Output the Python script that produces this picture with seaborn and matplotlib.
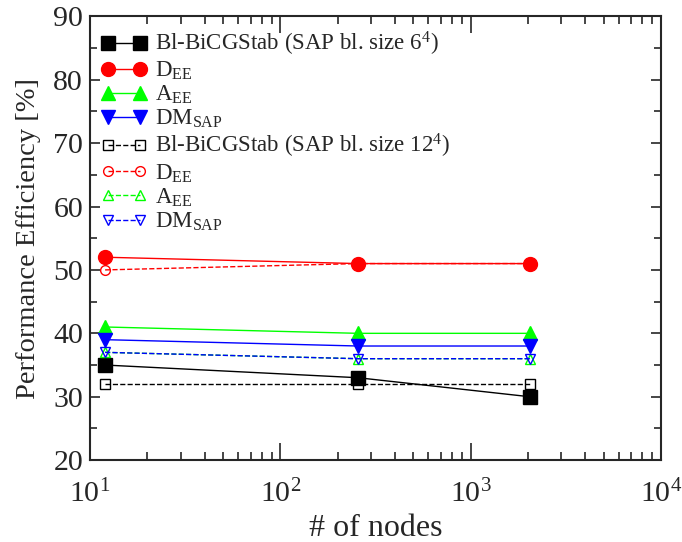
import numpy as np
import pandas as pd
import seaborn as sns
import matplotlib.pyplot as plt
from matplotlib.ticker import MultipleLocator, LogLocator, NullFormatter

sns.set_style("ticks")
plt.rcParams['font.family'] = ['Liberation Serif', 'DejaVu Serif']
plt.rcParams['mathtext.fontset'] = 'custom'
plt.rcParams['mathtext.rm'] = 'Liberation Serif'
plt.rcParams['mathtext.it'] = 'Liberation Serif:italic'

nodes = [12, 256, 2048]

# SAP block size 6^4
bicg_6 = [35, 33, 30]
dee_6 = [52, 51, 51]
aee_6 = [41, 40, 40]
dmsap_6 = [39, 38, 38]

# SAP block size 12^4
bicg_12 = [32, 32, 32]
dee_12 = [50, 51, 51]
aee_12 = [37, 36, 36]
dmsap_12 = [37, 36, 36]

labels = [r'Bl-BiCGStab (SAP bl. size 6$^{4}$)', r'D$_{\rm EE}$', r'A$_{\rm EE}$', r'DM$_{\rm SAP}$',
          r'Bl-BiCGStab (SAP bl. size 12$^{4}$)', r'D$_{\rm EE}$', r'A$_{\rm EE}$', r'DM$_{\rm SAP}$']
series = [bicg_6, dee_6, aee_6, dmsap_6, bicg_12, dee_12, aee_12, dmsap_12]
colors = ['black', '#ff0000', '#00ff00', '#0000ff'] * 2
markers = ['s', 'o', '^', 'v'] * 2

fig, ax = plt.subplots(figsize=(6.82, 5.42), dpi=100)
fig.subplots_adjust(left=0.132, right=0.969, bottom=0.151, top=0.970)

for i, (vals, lab) in enumerate(zip(series, labels)):
    df = pd.DataFrame({'nodes': nodes, 'eff': vals})
    filled = i < 4
    sns.lineplot(data=df, x='nodes', y='eff', ax=ax, color=colors[i], marker=markers[i],
                 markersize=10 if filled else 7,
                 markerfacecolor=colors[i] if filled else 'none',
                 markeredgecolor=colors[i], markeredgewidth=1.0,
                 linestyle='-' if filled else '--', linewidth=1.0, label=lab)

ax.set_xscale('log')
ax.set_xlim(10, 1e4)
ax.set_ylim(20, 90)
ax.yaxis.set_major_locator(MultipleLocator(10))
ax.yaxis.set_minor_locator(MultipleLocator(5))
ax.xaxis.set_major_locator(LogLocator(base=10, numticks=10))
ax.xaxis.set_minor_locator(LogLocator(base=10, subs=np.arange(2, 10), numticks=10))
ax.xaxis.set_minor_formatter(NullFormatter())

ax.tick_params(which='both', direction='in', top=True, right=True, labelsize=21.5, width=1.2)
ax.tick_params(axis='y', which='major', length=7, pad=5)
ax.tick_params(axis='y', which='minor', length=5)
ax.tick_params(axis='x', which='major', length=12, pad=14)
ax.tick_params(axis='x', which='minor', length=6)
for s in ax.spines.values():
    s.set_linewidth(1.5)

ax.set_xlabel('# of nodes', fontsize=23, labelpad=4)
ax.set_ylabel('Performance Efficiency [%]', fontsize=20.5, labelpad=9)

ax.legend(loc='upper left', frameon=False, numpoints=2, handlelength=2.0, fontsize=16.5,
          labelspacing=0.08, borderpad=0.2, borderaxespad=0.3, handletextpad=0.35,
          bbox_to_anchor=(0.0, 0.995))

fig.savefig('out.png', dpi=100)
